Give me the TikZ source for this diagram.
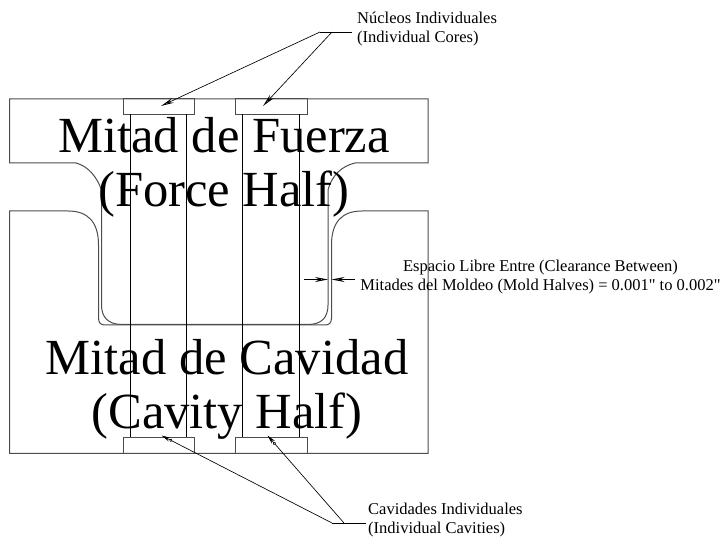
\documentclass[tikz,border=0pt]{standalone}
\usepackage{fontspec}
\setmainfont{Liberation Serif}
\newfontfamily\dimfont{Liberation Serif}
\usetikzlibrary{arrows.meta,positioning}
\tikzset{
  outline/.style={draw=black!70,line width=1pt},
  coreline/.style={draw=black,line width=0.65pt},
  leader/.style={draw=black,line width=0.65pt},
  bigtext/.style={inner sep=0pt,align=center,font=\fontsize{50.6}{54}\selectfont},
  smalltext/.style={inner sep=0pt,align=left,font=\fontsize{16.5}{19}\selectfont},
  dimtext/.style={inner sep=0pt,align=center,font=\dimfont\fontsize{16.5}{19}\selectfont},
  tiptop/.style={-{Stealth[open,length=13pt,width=5pt,line width=0.9pt]}},
  tipbot/.style={-{Circle[open,fill=white,length=3pt] Stealth[length=9pt,width=4pt]}}
}
\begin{document}
\begin{tikzpicture}[x=1pt,y=-1pt]
\useasboundingbox (0,0) rectangle (724,540);
% force half
\draw[outline] (101.5,190) .. controls (97,177) and (88,166) .. (76,163) -- (9.5,163) -- (9.5,99) -- (428,99) -- (428,163) -- (355,163) .. controls (342,166) and (332,175) .. (328,190);
\draw[outline] (101.5,190) -- (101.5,305) .. controls (101.5,317) and (108,324.5) .. (122,324.5) -- (308,324.5) .. controls (322,324.5) and (328,317) .. (328,305) -- (328,190);
% cavity half
\draw[outline] (98.5,245) .. controls (98.5,222) and (88,211) .. (68,211) -- (9.5,211) -- (9.5,453.5) -- (428,453.5) -- (428,211) -- (362,211) .. controls (342,211) and (331.5,222) .. (331.5,245) -- (331.5,318) .. controls (331.5,323) and (329,325) .. (325,325) -- (105,325) .. controls (101,325) and (98.5,323) .. (98.5,318) -- cycle;
% core and cavity plates
\foreach \xa/\xb in {123/194.5,235/307} {
  \draw[outline] (\xa,99) rectangle (\xb,114.5);
  \draw[outline] (\xa,437.5) rectangle (\xb,453.5);
}
\foreach \xc in {130.5,186,242.5,299.5} {
  \draw[coreline] (\xc,114.5) -- (\xc,437.5);
}
% texts
\node[bigtext,anchor=north] (forcetext) at (224,117.4) {Mitad de Fuerza\\(Force Half)};
\node[bigtext,anchor=north] (cavitytext) at (227,339.4) {Mitad de Cavidad\\(Cavity Half)};
\node[smalltext,anchor=north west] (coretext) at (357,11.5) {Núcleos Individuales\\(Individual Cores)};
\node[smalltext,anchor=north west] (cavtext) at (368,502.5) {Cavidades Individuales\\(Individual Cavities)};
\node[dimtext,anchor=north] (gaptext) at (540.5,260) {Espacio Libre Entre (Clearance Between)\\[-0.5pt]Mitades del Moldeo (Mold Halves) = 0.001" to 0.002"};
% leaders
\coordinate (coreend) at (352,32);
\coordinate (corea) at (320,32);
\coordinate (coreb) at (332,32);
\coordinate (coretipa) at (161,106);
\coordinate (coretipb) at (263,106);
\draw[leader] (coreend) -- (corea);
\draw[leader,tiptop] (corea) -- (coretipa);
\draw[leader,tiptop] (coreb) -- (coretipb);
\coordinate (cavend) at (366,523);
\coordinate (cava) at (332,523);
\coordinate (cavb) at (344,523);
\coordinate (cavtipa) at (161.5,435.5);
\coordinate (cavtipb) at (267.5,435.5);
\draw[leader] (cavend) -- (cava);
\draw[leader,tipbot] (cava) -- (cavtipa);
\draw[leader,tipbot] (cavb) -- (cavtipb);
% clearance
\coordinate (gapl) at (304,279.5);
\coordinate (gapr) at (355,279.5);
\coordinate (wall) at (328,279.5);
\coordinate (wallb) at (331.5,279.5);
\draw[leader,tiptop] (gapl) -- (wall);
\draw[leader,tiptop] (gapr) -- (wallb);
\end{tikzpicture}
\end{document}
